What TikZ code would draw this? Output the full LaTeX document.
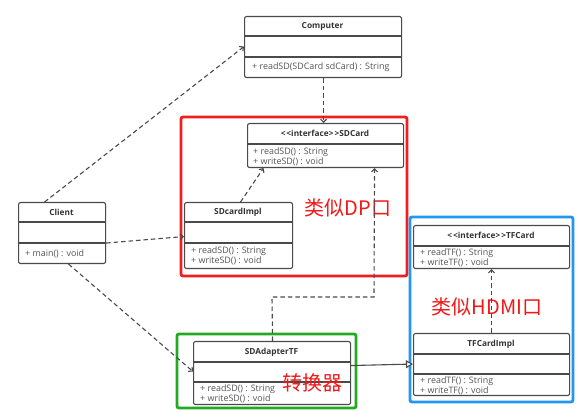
\documentclass[tikz,border=0pt]{standalone}
\usepackage{fontspec}
\setmainfont{Open Sans}
\newfontfamily\cjk{Noto Sans CJK SC}
\usetikzlibrary{arrows.meta,calc}
\definecolor{umlline}{HTML}{4A4A4A}
\definecolor{umltext}{HTML}{555555}
\definecolor{titletext}{HTML}{333333}
\definecolor{markred}{HTML}{F21818}
\definecolor{frred}{HTML}{F01E1E}
\definecolor{frblue}{HTML}{2196F3}
\definecolor{frgreen}{HTML}{22AA22}
\newcommand{\gl}{<\kern1pt<}
\newcommand{\gr}{>\kern1pt>}
\tikzset{
  umlbox/.style={draw=umlline,line width=1.1pt,rounded corners=2pt,anchor=north west,inner sep=0pt,fill=white},
  sep/.style={draw=umlline,line width=1.1pt},
  title/.style={font=\fontsize{8.3}{10}\selectfont\bfseries,text=titletext,inner sep=0pt,anchor=center},
  member/.style={font=\fontsize{8.9}{10}\selectfont,text=umltext,inner sep=0pt,anchor=west},
  frame/.style={line width=2.8pt,rounded corners=2pt},
  dep/.style={draw=umlline,line width=1.1pt,dash pattern=on 4.5pt off 3pt,-{Straight Barb[length=3pt,width=6pt]}},
  assoc/.style={draw=umlline,line width=1.1pt,-{Triangle[open,length=7pt,width=8pt,fill=white]}},
  note/.style={font=\cjk\fontsize{20}{22}\selectfont,text=markred,inner sep=0pt}
}
\begin{document}
\begin{tikzpicture}[x=1pt,y=-1pt]
\useasboundingbox[fill=white] (0,0) rectangle (582,411);
% frames
\draw[frame,draw=frred] (181,117) rectangle (407,276);
\draw[frame,draw=frblue] (410,217) rectangle (573,402);
\draw[frame,draw=frgreen] (177,334) rectangle (356,408);

% Computer
\node[umlbox,minimum width=157pt,minimum height=61pt] (computer) at (244,16) {};
\draw[sep] (244,36) -- (401,36);
\draw[sep] (244,57) -- (401,57);
\node[title] (computerT) at (322.5,26) {Computer};
\node[member] (computerM) at (252,67) {+ readSD(SDCard sdCard) : String};

% SDCard
\node[umlbox,minimum width=156pt,minimum height=44pt] (sdcard) at (247,123) {};
\draw[sep] (247,144) -- (403,144);
\node[title] (sdcardT) at (325,133) {\gl interface\gr SDCard};
\node[member] (sdcardM1) at (253,152.5) {+ readSD() : String};
\node[member] (sdcardM2) at (253,162) {+ writeSD() : void};

% SDcardImpl
\node[umlbox,minimum width=108pt,minimum height=66pt] (sdimpl) at (184,202) {};
\draw[sep] (184,222) -- (292,222);
\draw[sep] (184,243) -- (292,243);
\node[title] (sdimplT) at (238,212) {SDcardImpl};
\node[member] (sdimplM1) at (191,251) {+ readSD() : String};
\node[member] (sdimplM2) at (191,261) {+ writeSD() : void};

% Client
\node[umlbox,minimum width=87pt,minimum height=61pt] (client) at (18,202) {};
\draw[sep] (18,222) -- (105,222);
\draw[sep] (18,243) -- (105,243);
\node[title] (clientT) at (61.5,212) {Client};
\node[member] (clientM) at (25,254) {+ main() : void};

% TFCard
\node[umlbox,minimum width=156pt,minimum height=43pt] (tfcard) at (413,225) {};
\draw[sep] (413,246) -- (569,246);
\node[title] (tfcardT) at (491,235) {\gl interface\gr TFCard};
\node[member] (tfcardM1) at (420,253.5) {+ readTF() : String};
\node[member] (tfcardM2) at (420,263) {+ writeTF() : void};

% TFCardImpl
\node[umlbox,minimum width=156pt,minimum height=62pt] (tfimpl) at (413,333) {};
\draw[sep] (413,354) -- (569,354);
\draw[sep] (413,374) -- (569,374);
\node[title] (tfimplT) at (491,344) {TFCardImpl};
\node[member] (tfimplM1) at (420,381.5) {+ readTF() : String};
\node[member] (tfimplM2) at (420,391) {+ writeTF() : void};

% SDAdapterTF
\node[umlbox,minimum width=157pt,minimum height=63pt] (adapter) at (193,341) {};
\draw[sep] (193,362) -- (350,362);
\draw[sep] (193,382) -- (350,382);
\node[title] (adapterT) at (271.5,352) {SDAdapterTF};
\node[member] (adapterM1) at (200,389) {+ readSD() : String};
\node[member] (adapterM2) at (200,399) {+ writeSD() : void};

% notes
\node[note] (noteDP) at (348,208) {类似DP口};
\node[note] (noteHDMI) at (487,307) {类似HDMI口};
\node[note] (noteAd) at (312,383) {转换器};

% connectors
\coordinate (bend1) at (272,297);
\coordinate (bend2) at (374,297);
\draw[dep] ([xshift=-17.5pt]client.north) -- ([yshift=0.5pt]computer.west);
\draw[dep] ([yshift=-10pt]client.east) -- ([yshift=-1pt]sdimpl.west);
\draw[dep] ([xshift=6.5pt]client.south) -- ([yshift=1.5pt]adapter.west);
\draw[dep] ([xshift=0.5pt]computer.south) -- ([xshift=-2pt]sdcard.north);
\draw[dep] ([xshift=2pt]sdimpl.north) -- ([xshift=-62pt]sdcard.south);
\draw[dep] ([xshift=0.5pt]adapter.north) -- (bend1) -- (bend2) -- ([xshift=49pt]sdcard.south);
\draw[assoc] ([yshift=7.5pt]adapter.east) -- ([yshift=0.5pt]tfimpl.west);
\draw[dep] (tfimpl.north) -- (tfcard.south);
\end{tikzpicture}
\end{document}
